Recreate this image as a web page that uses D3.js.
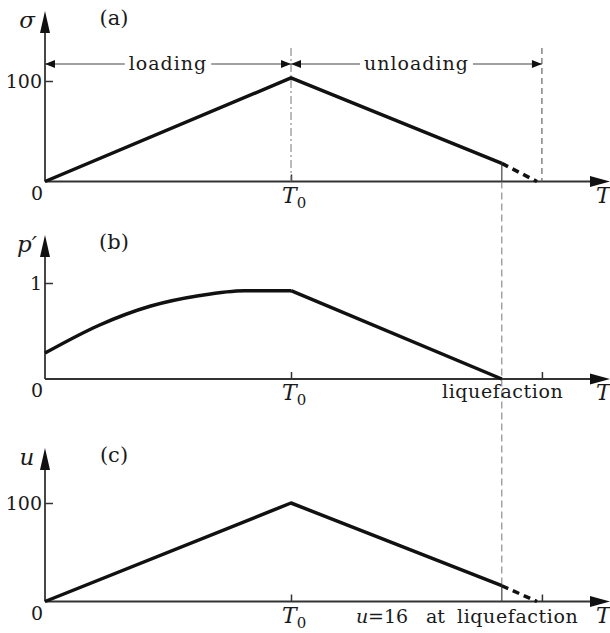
<!DOCTYPE html>
<html lang="en">
<head>
<meta charset="UTF-8">
<title>Loading / unloading sketch</title>
<script src="https://cdn.jsdelivr.net/npm/d3@7"></script>
<style>
  body { margin: 0; background: #fff; }
  svg text { font-family: "DejaVu Serif", "Liberation Serif", serif; fill: #1a1a1a; }
  .it { font-style: italic; }
</style>
</head>
<body>
<svg id="chart" width="610" height="633"></svg>
<script>
// time, in units of T0
var T0 = 1;
var tLiq = 1.857;   // liquefaction
var tEnd = 2.0;     // dashed extension reaches zero
var tMark = 2.02;   // end of unloading marker

// (a) total stress sigma
var sigmaT = [0, T0, tLiq];
var sigmaV = [0, 103, 18];
var sigmaDashT = [tLiq, tEnd];
var sigmaDashV = [18, 0];

// (b) effective stress p'
var pLoadT = [0, 0.22, 0.43, 0.63, 0.81, T0];
var pLoadV = [0.27, 0.56, 0.76, 0.87, 0.92, 0.92];
var pUnloadT = [T0, tLiq];
var pUnloadV = [0.92, 0];

// (c) pore pressure u
var uT = [0, T0, tLiq];
var uV = [0, 100, 16];
var uDashT = [tLiq, tEnd];
var uDashV = [16, 0];

var svg = d3.select("#chart");
var x = d3.scaleLinear().domain([0, 2.3]).range([45, 45 + 2.3 * 246]);

var panels = [
  { key: "a", y: d3.scaleLinear().domain([0, 100]).range([181.5, 81]), tip: 11, ticks: [100], name: "\u03c3" },
  { key: "b", y: d3.scaleLinear().domain([0, 1]).range([379, 283]), tip: 235, ticks: [1], name: "p\u2032" },
  { key: "c", y: d3.scaleLinear().domain([0, 100]).range([601.5, 503]), tip: 448, ticks: [100], name: "u" }
];

function zip(a, b) { return a.map(function (d, i) { return [d, b[i]]; }); }

panels.forEach(function (p) {
  var g = svg.append("g");
  var y0 = p.y(0);
  var line = d3.line().x(function (d) { return x(d[0]); }).y(function (d) { return p.y(d[1]); });

  // axes with arrows
  g.append("line").attr("x1", x(0)).attr("x2", 595).attr("y1", y0).attr("y2", y0)
    .attr("stroke", "#333").attr("stroke-width", 1.8);
  g.append("path").attr("d", "M590," + (y0 - 5.5) + "L610," + y0 + "L590," + (y0 + 5.5) + "Z").attr("fill", "#111");
  g.append("line").attr("x1", x(0)).attr("x2", x(0)).attr("y1", y0).attr("y2", p.tip + 18)
    .attr("stroke", "#333").attr("stroke-width", 1.8);
  g.append("path").attr("d", "M" + (x(0) - 5) + "," + (p.tip + 22) + "L" + x(0) + "," + p.tip + "L" + (x(0) + 5) + "," + (p.tip + 22) + "Z")
    .attr("fill", "#111");

  var ya = g.append("g").attr("transform", "translate(" + x(0) + ",0)")
    .call(d3.axisLeft(p.y).tickValues(p.ticks).tickSize(-8).tickPadding(3).tickFormat(d3.format("d")));
  ya.select(".domain").remove();
  ya.selectAll("line").attr("stroke", "#333").attr("stroke-width", 1.5);
  ya.selectAll("text").attr("font-size", 19).style("font-family", '"DejaVu Serif", serif').attr("fill", "#1a1a1a");

  var xt = p.key === "a" ? [T0] : [T0, tMark];
  var xa = g.append("g").attr("transform", "translate(0," + y0 + ")")
    .call(d3.axisBottom(x).tickValues(xt).tickSize(-7).tickFormat(""));
  xa.select(".domain").remove();
  xa.selectAll("line").attr("stroke", "#333").attr("stroke-width", 1.5);

  // labels
  g.append("text").attr("x", 37).attr("y", y0 + 18).attr("text-anchor", "middle").attr("font-size", 19).text("0");
  var t0 = g.append("text").attr("x", x(T0) - 9).attr("y", y0 + 21).attr("font-size", 22);
  t0.append("tspan").attr("class", "it").text("T");
  t0.append("tspan").attr("dy", 5).attr("font-size", 15).text("0");
  g.append("text").attr("class", "it").attr("x", 596).attr("y", y0 + 21).attr("font-size", 22).text("T");
  g.append("text").attr("x", 114).attr("y", p.tip + 14).attr("text-anchor", "middle")
    .attr("font-size", 21).text("(" + p.key + ")");
  g.append("text").attr("class", "it").attr("x", 27).attr("y", p.tip + 17).attr("text-anchor", "middle")
    .attr("font-size", 23).text(p.name);
  p.line = line;
});

var pa = panels[0], pb = panels[1], pc = panels[2];

// guide lines
svg.append("line").attr("x1", x(T0)).attr("x2", x(T0)).attr("y1", 48).attr("y2", pa.y(0))
  .attr("stroke", "#777").attr("stroke-width", 1).attr("stroke-dasharray", "8,3,2,3");
svg.append("line").attr("x1", x(tMark)).attr("x2", x(tMark)).attr("y1", 48).attr("y2", pa.y(0))
  .attr("stroke", "#666").attr("stroke-width", 1.2).attr("stroke-dasharray", "6,4");
svg.append("line").attr("x1", x(tLiq)).attr("x2", x(tLiq)).attr("y1", pa.y(0)).attr("y2", pc.y(16))
  .attr("stroke", "#777").attr("stroke-width", 1).attr("stroke-dasharray", "7,4");
svg.append("line").attr("x1", x(tLiq)).attr("x2", x(tLiq)).attr("y1", pa.y(18)).attr("y2", pa.y(0))
  .attr("stroke", "#444").attr("stroke-width", 1.2);
svg.append("line").attr("x1", x(tLiq)).attr("x2", x(tLiq)).attr("y1", pc.y(16)).attr("y2", pc.y(0))
  .attr("stroke", "#444").attr("stroke-width", 1.2);

// loading / unloading arrows
var spans = [
  { from: 0, to: T0, label: "loading" },
  { from: T0, to: tMark, label: "unloading" }
];
var arrowY = 64;
spans.forEach(function (s) {
  var a = x(s.from), b = x(s.to);
  var g = svg.append("g");
  g.append("line").attr("x1", a).attr("x2", b).attr("y1", arrowY).attr("y2", arrowY)
    .attr("stroke", "#444").attr("stroke-width", 1.1);
  g.append("path").attr("d", "M" + a + "," + arrowY + "l10,-4v8z").attr("fill", "#111");
  g.append("path").attr("d", "M" + b + "," + arrowY + "l-10,-4v8z").attr("fill", "#111");
  var t = g.append("text").attr("x", (a + b) / 2).attr("y", arrowY + 6).attr("text-anchor", "middle")
    .attr("font-size", 19).attr("letter-spacing", 1).text(s.label);
  var bb = t.node().getBBox();
  g.insert("rect", "text").attr("x", bb.x - 4).attr("y", arrowY - 3).attr("width", bb.width + 8)
    .attr("height", 6).attr("fill", "#fff");
});

// curves
function curve(p, T, V, dashed, kind) {
  svg.append("path").datum(zip(T, V))
    .attr("d", p.line.curve(kind || d3.curveLinear))
    .attr("fill", "none").attr("stroke", "#111").attr("stroke-width", 3.5)
    .attr("stroke-linejoin", "round")
    .attr("stroke-dasharray", dashed ? "7,5" : null);
}
curve(pa, sigmaT, sigmaV, false);
curve(pa, sigmaDashT, sigmaDashV, true);
curve(pb, pLoadT, pLoadV, false, d3.curveMonotoneX);
curve(pb, pUnloadT, pUnloadV, false);
curve(pc, uT, uV, false);
curve(pc, uDashT, uDashV, true);

// notes
svg.append("text").attr("x", 442).attr("y", pb.y(0) + 19).attr("font-size", 19).attr("letter-spacing", 0.6).text("liquefaction");
var note = svg.append("text").attr("y", pc.y(0) + 21).attr("font-size", 19);
note.append("tspan").attr("class", "it").attr("x", 356).text("u");
note.append("tspan").attr("x", 368).text("=16");
note.append("tspan").attr("x", 426).text("at");
note.append("tspan").attr("x", 457).attr("letter-spacing", 0.6).text("liquefaction");
</script>
</body>
</html>
